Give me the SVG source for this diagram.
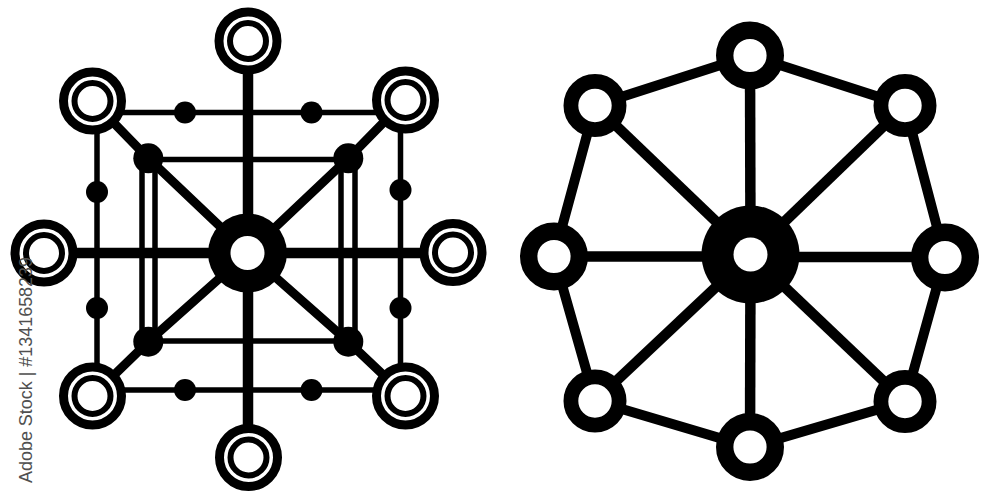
<svg xmlns="http://www.w3.org/2000/svg" width="1000" height="500" viewBox="0 0 1000 500">
  <style>
    .thick { stroke: #000; stroke-width: 10.5; fill: none; }
    .diag { stroke: #000; stroke-width: 9; fill: none; stroke-linejoin: round; }
    .thin { stroke: #000; stroke-width: 5.5; fill: none; }
    .edge { stroke: #000; stroke-width: 10; fill: none; }
    .spoke { stroke: #000; stroke-width: 10.5; fill: none; }
    .ringOuter { fill: #fff; stroke: #000; stroke-width: 9; }
    .ringInner { fill: #fff; stroke: #000; stroke-width: 6; }
    .ringAxis { fill: #fff; stroke: #000; stroke-width: 17.4; }
    .ringCorner { fill: #fff; stroke: #000; stroke-width: 14.8; }
    .dot { fill: #000; }
    .hole { fill: #fff; }
    .wm { font-family: "Liberation Sans", Arial, sans-serif; font-size: 18px; fill: #505050; }
  </style>
  <defs>
    <g id="dbl">
      <circle r="29" class="ringOuter"/>
      <circle r="18" class="ringInner"/>
    </g>
    <circle id="axisNode" r="25.3" class="ringAxis"/>
    <circle id="cornerNode" r="24.1" class="ringCorner"/>
  </defs>
  <rect width="1000" height="500" fill="#fff"/>

  <!-- LEFT DIAGRAM -->
  <g id="left-connectors">
    <line class="thin" x1="92.5" y1="112.5" x2="405.5" y2="112.5"/>
    <line class="thin" x1="92.5" y1="390" x2="405.5" y2="390"/>
    <line class="thin" x1="97" y1="101" x2="97" y2="396"/>
    <line class="thin" x1="400.5" y1="100" x2="400.5" y2="396"/>
    <line class="thin" x1="148" y1="159.5" x2="348" y2="159.5"/>
    <line class="thin" x1="148" y1="341" x2="348" y2="341"/>
    <line class="thin" x1="142" y1="158" x2="142" y2="342"/>
    <line class="thin" x1="155" y1="158" x2="155" y2="342"/>
    <line class="thin" x1="341" y1="158" x2="341" y2="342"/>
    <line class="thin" x1="355" y1="158" x2="355" y2="342"/>
    <polyline class="diag" points="92.5,101 148.3,158.3 248,253 348.3,341.7 405.5,396"/>
    <polyline class="diag" points="405.5,100 348.3,158.3 248,253 148.3,341.7 92.5,396"/>
    <line class="thick" x1="248" y1="41" x2="248" y2="457.5"/>
    <line class="thick" x1="44" y1="253" x2="453" y2="253"/>
  </g>
  <g id="left-small-dots">
    <circle class="dot" cx="185" cy="112.5" r="11"/>
    <circle class="dot" cx="311.5" cy="112.5" r="11"/>
    <circle class="dot" cx="185" cy="390" r="11"/>
    <circle class="dot" cx="311.5" cy="390" r="11"/>
    <circle class="dot" cx="97" cy="192" r="11"/>
    <circle class="dot" cx="97" cy="308" r="11"/>
    <circle class="dot" cx="400.5" cy="190" r="11"/>
    <circle class="dot" cx="400.5" cy="308" r="11"/>
  </g>
  <g id="left-medium-dots">
    <circle class="dot" cx="148.3" cy="158.3" r="15"/>
    <circle class="dot" cx="348.3" cy="158.3" r="15"/>
    <circle class="dot" cx="148.3" cy="341.7" r="15"/>
    <circle class="dot" cx="348.3" cy="341.7" r="15"/>
  </g>
  <g id="left-hub">
    <circle class="dot" cx="247.5" cy="253" r="39.5"/>
    <circle class="hole" cx="247.5" cy="253" r="17"/>
  </g>
  <g id="left-node-top"><use href="#dbl" x="248" y="41"/></g>
  <g id="left-node-bottom"><use href="#dbl" x="248.5" y="457.5"/></g>
  <g id="left-node-left"><use href="#dbl" x="44" y="253"/></g>
  <g id="left-node-right"><use href="#dbl" x="453" y="252.5"/></g>
  <g id="left-node-tl"><use href="#dbl" x="92.5" y="101"/></g>
  <g id="left-node-tr"><use href="#dbl" x="405.5" y="100"/></g>
  <g id="left-node-bl"><use href="#dbl" x="92.5" y="396"/></g>
  <g id="left-node-br"><use href="#dbl" x="405.5" y="396"/></g>

  <!-- RIGHT DIAGRAM -->
  <g id="right-connectors">
    <polygon class="edge" points="750,55.5 905,105.5 945,257.5 905,401.5 750,447 595,401 554,256.5 595,105.5"/>
    <line class="spoke" x1="750.5" y1="254.5" x2="750" y2="55.5"/>
    <line class="spoke" x1="750.5" y1="254.5" x2="750" y2="447"/>
    <line class="spoke" x1="750.5" y1="256.5" x2="554" y2="256.5"/>
    <line class="spoke" x1="750.5" y1="257" x2="945" y2="257"/>
    <line class="spoke" x1="750.5" y1="254.5" x2="595" y2="105.5"/>
    <line class="spoke" x1="750.5" y1="254.5" x2="905" y2="105.5"/>
    <line class="spoke" x1="750.5" y1="254.5" x2="595" y2="401"/>
    <line class="spoke" x1="750.5" y1="254.5" x2="905" y2="401.5"/>
  </g>
  <g id="right-hub">
    <circle class="dot" cx="750.5" cy="254.5" r="49"/>
    <circle class="hole" cx="750.5" cy="254.5" r="17"/>
  </g>
  <g id="right-node-top"><use href="#axisNode" x="750" y="55.5"/></g>
  <g id="right-node-bottom"><use href="#axisNode" x="750" y="447"/></g>
  <g id="right-node-left"><use href="#axisNode" x="554" y="256.5"/></g>
  <g id="right-node-right"><use href="#axisNode" x="945" y="257.5"/></g>
  <g id="right-node-tl"><use href="#cornerNode" x="595" y="105.5"/></g>
  <g id="right-node-tr"><use href="#cornerNode" x="905" y="105.5"/></g>
  <g id="right-node-bl"><use href="#cornerNode" x="595" y="401"/></g>
  <g id="right-node-br"><use href="#cornerNode" x="905" y="401.5"/></g>

  <text class="wm" transform="translate(31.5,483) rotate(-90)" x="0" y="0" textLength="226" lengthAdjust="spacingAndGlyphs">Adobe Stock | #1341658239</text>
</svg>
